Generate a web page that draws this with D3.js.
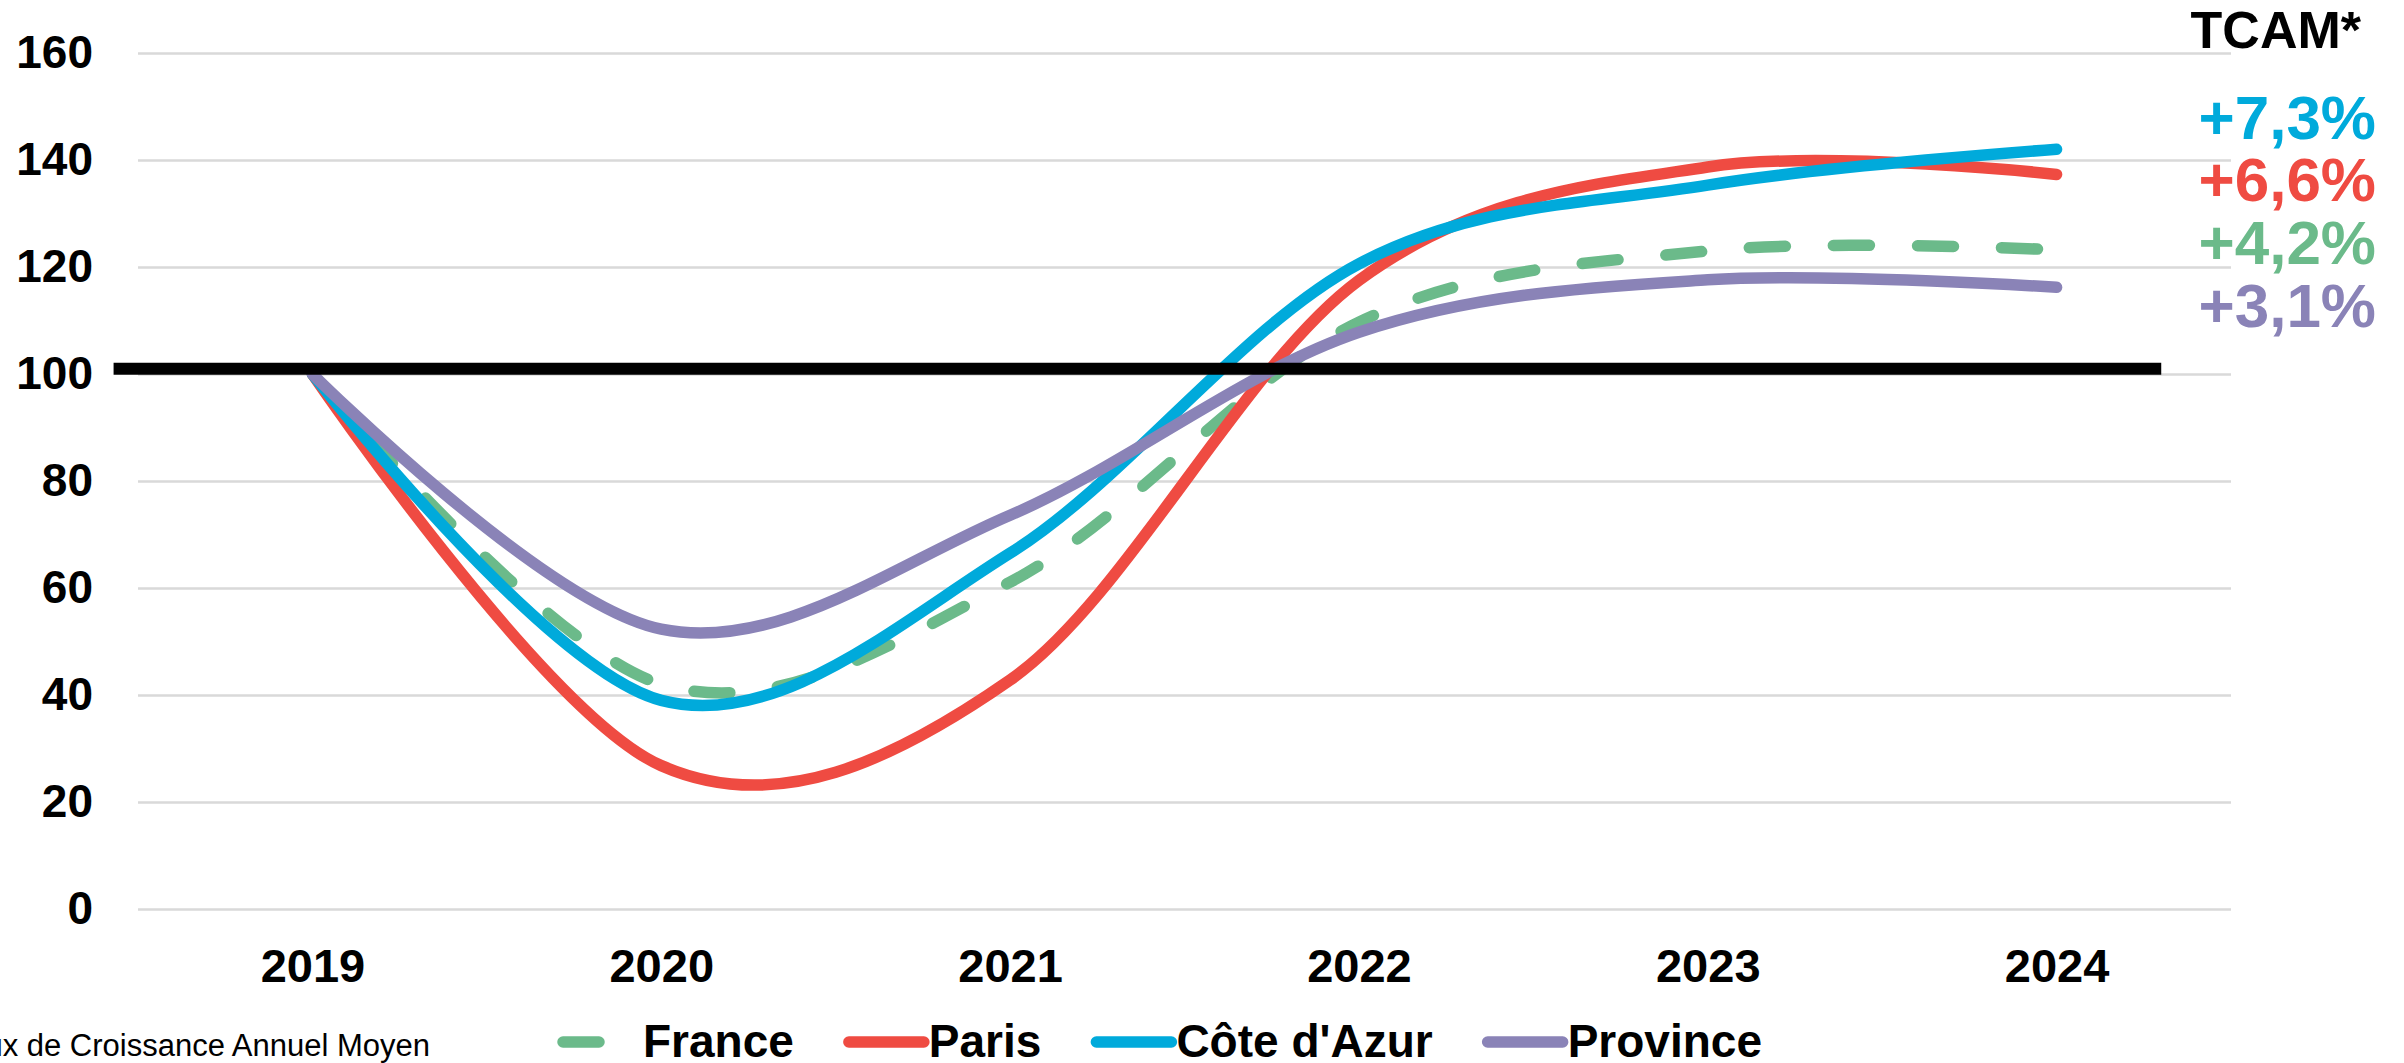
<!DOCTYPE html>
<html lang="fr">
<head>
<meta charset="utf-8">
<title>Indice de fréquentation 2019–2024</title>
<script src="https://cdn.jsdelivr.net/npm/d3@7"></script>
<style>
  html, body { margin: 0; padding: 0; background: #ffffff; }
  svg { display: block; font-family: "Liberation Sans", Arial, Helvetica, sans-serif; }
</style>
</head>
<body>
<svg id="chart" width="2404" height="1063"></svg>
<script>
// Années (axe des abscisses)
const years = ["2019", "2020", "2021", "2022", "2023", "2024"];

// Indices base 100 en 2019
const france     = [100, 42.0, 61.1, 109.7, 123.0, 123.2];
const paris      = [100, 26.8, 42.8, 117.5, 138.7, 137.3];
const coteDAzur  = [100, 39.0, 66.5, 120.6, 135.3, 142.0];
const province   = [100, 52.3, 73.6, 107.8, 117.6, 116.2];

// Libellés des séries et taux de croissance annuel moyen
const seriesNames = ["France", "Paris", "Côte d'Azur", "Province"];
const tcamLabels  = ["+7,3%", "+6,6%", "+4,2%", "+3,1%"];
const tcamOrder   = ["Côte d'Azur", "Paris", "France", "Province"];

// Graduations de l'axe vertical et ligne de référence
const yTicks = [0, 20, 40, 60, 80, 100, 120, 140, 160];
const referenceValue = 101;

const colors = {
  "France": "#6BBA8A",
  "Paris": "#EF4B42",
  "Côte d'Azur": "#00AADB",
  "Province": "#8A83B7"
};

const series = [
  { name: "France", values: france, dashed: true },
  { name: "Paris", values: paris, dashed: false },
  { name: "Côte d'Azur", values: coteDAzur, dashed: false },
  { name: "Province", values: province, dashed: false }
];

const svg = d3.select("#chart");
const plot = { left: 138, right: 2231, top: 53, bottom: 909 };

const x = d3.scalePoint().domain(years).range([plot.left, plot.right]).padding(0.5);
const y = d3.scaleLinear().domain([0, 160]).range([plot.bottom, plot.top]);

// Quadrillage horizontal + libellés de l'axe Y
const yAxis = svg.append("g")
  .attr("transform", `translate(${plot.left},0)`)
  .call(d3.axisLeft(y).tickValues(yTicks).tickSize(-(plot.right - plot.left)).tickPadding(45).tickFormat(d3.format("d")));
yAxis.select(".domain").remove();
yAxis.selectAll(".tick line").attr("stroke", "#D9D9D9").attr("stroke-width", 2.5);
yAxis.selectAll(".tick text")
  .attr("fill", "#000").attr("font-size", 46).attr("font-weight", "bold")
  .attr("font-family", "Liberation Sans, Arial, sans-serif");

// Libellés de l'axe X
const xAxis = svg.append("g")
  .attr("transform", `translate(0,${plot.bottom})`)
  .call(d3.axisBottom(x).tickSize(0).tickPadding(40));
xAxis.select(".domain").remove();
xAxis.selectAll(".tick text")
  .attr("fill", "#000").attr("font-size", 47).attr("font-weight", "bold")
  .attr("font-family", "Liberation Sans, Arial, sans-serif");

// Courbes lissées
const line = d3.line()
  .x((d, i) => x(years[i]))
  .y(d => y(d))
  .curve(d3.curveCardinal.tension(0));

const dashPattern = "36,48";

svg.append("g").selectAll("path")
  .data(series)
  .join("path")
  .attr("d", d => line(d.values))
  .attr("fill", "none")
  .attr("stroke", d => colors[d.name])
  .attr("stroke-width", 11.5)
  .attr("stroke-linecap", "round")
  .attr("stroke-linejoin", "round")
  .attr("stroke-dasharray", d => d.dashed ? dashPattern : null);

// Ligne de référence (base 100)
const step = x.step();
svg.append("line")
  .attr("x1", x(years[0]) - 0.57 * step)
  .attr("x2", x(years[years.length - 1]) + 0.3 * step)
  .attr("y1", y(referenceValue))
  .attr("y2", y(referenceValue))
  .attr("stroke", "#000")
  .attr("stroke-width", 12);

// TCAM
const tcam = svg.append("g").attr("font-weight", "bold").attr("text-anchor", "end");
tcam.append("text")
  .attr("x", 2361).attr("y", 48)
  .attr("font-size", 52).attr("fill", "#000")
  .text("TCAM*");
const tcamBaselines = [139, 201, 264, 327];
tcamOrder.forEach((name, i) => {
  tcam.append("text")
    .attr("x", 2376).attr("y", tcamBaselines[i])
    .attr("font-size", 62).attr("fill", colors[name])
    .text(tcamLabels[i]);
});

// Note de bas de page
svg.append("text")
  .attr("x", 430).attr("y", 1056)
  .attr("text-anchor", "end")
  .attr("font-size", 31)
  .attr("fill", "#000")
  .text("* Taux de Croissance Annuel Moyen");

// Légende
const legend = svg.append("g");
let cursor = 563;
const legendY = 1042;
series.forEach(s => {
  legend.append("line")
    .attr("x1", cursor).attr("x2", cursor + 75)
    .attr("y1", legendY).attr("y2", legendY)
    .attr("stroke", colors[s.name])
    .attr("stroke-width", 11.5)
    .attr("stroke-linecap", "round")
    .attr("stroke-dasharray", s.dashed ? dashPattern : null);
  const t = legend.append("text")
    .attr("x", cursor + 80).attr("y", 1057)
    .attr("font-size", 46).attr("font-weight", "bold").attr("fill", "#000")
    .text(s.name);
  cursor = cursor + 80 + t.node().getComputedTextLength() + 55;
});
</script>
</body>
</html>
